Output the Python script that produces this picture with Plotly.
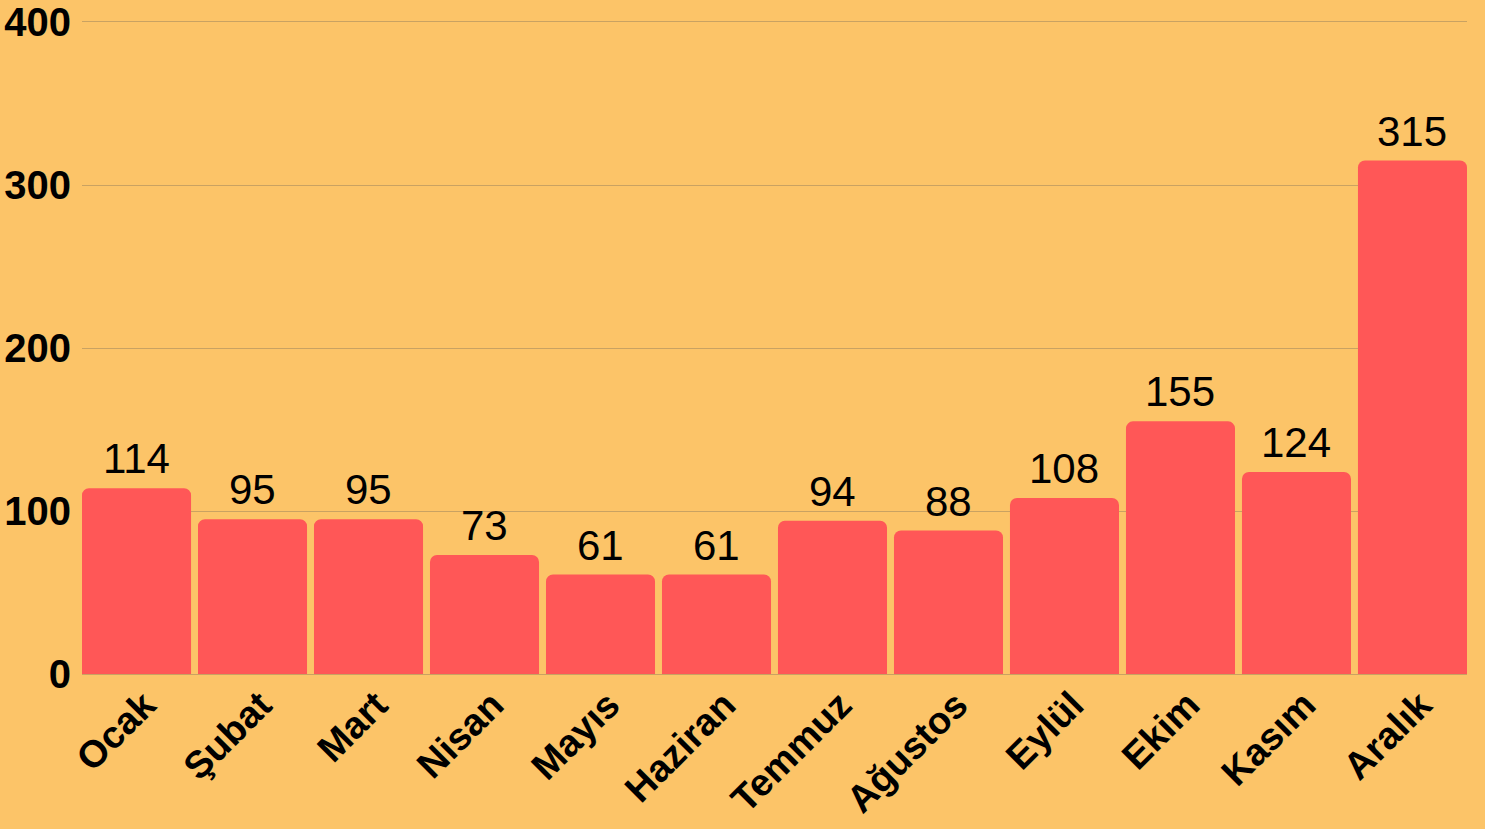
import plotly.graph_objects as go

months = ["Ocak", "Şubat", "Mart", "Nisan", "Mayıs", "Haziran", "Temmuz",
          "Ağustos", "Eylül", "Ekim", "Kasım", "Aralık"]
values = [114, 95, 95, 73, 61, 61, 94, 88, 108, 155, 124, 315]
y_ticks = [0, 100, 200, 300, 400]

BG = "#FCC468"
BAR = "#FF5757"
GRID = "#C9A262"
FONT = "Liberation Sans, Arial, sans-serif"
GAP = 0.06

fig = go.Figure(go.Bar(
    x=months, y=values,
    marker=dict(color=BAR, cornerradius=7, line=dict(width=0)),
    hoverinfo="x+y",
))

for m, v in zip(months, values):
    fig.add_annotation(
        x=m, y=v, text=str(v), showarrow=False,
        yanchor="bottom", yshift=4,
        font=dict(family=FONT, size=42, color="#000000"),
    )

fig.update_layout(
    width=1485, height=829,
    paper_bgcolor=BG, plot_bgcolor=BG,
    margin=dict(l=82, r=18, t=18, b=155, autoexpand=False),
    bargap=GAP,
    showlegend=False,
    font=dict(family=FONT, color="#000000"),
    xaxis=dict(
        range=[-0.5 + GAP / 2, len(months) - 0.5 - GAP / 2],
        tickangle=-45,
        tickfont=dict(family=FONT, size=38, color="#000000", weight="bold"),
        showgrid=False,
        showline=False,
        ticks="",
        ticklabelshift=8,
        ticklabeloverflow="allow",
        automargin=False,
    ),
    yaxis=dict(
        range=[0, 402.45],
        tickvals=y_ticks,
        tickfont=dict(family=FONT, size=40, color="#000000", weight="bold"),
        showgrid=True, gridcolor=GRID, gridwidth=1,
        zeroline=True, zerolinecolor=GRID, zerolinewidth=1,
        ticks="", ticklabelstandoff=10,
        ticklabeloverflow="allow",
        automargin=False,
    ),
)

fig.write_html(
    "out.html",
    config={"displayModeBar": False},
    post_script="document.body.style.margin='0';document.body.style.overflow='hidden';",
)
